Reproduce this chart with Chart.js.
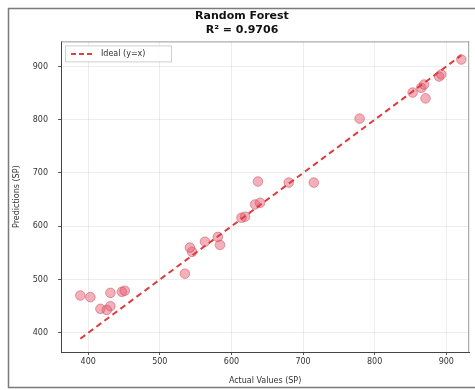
<!DOCTYPE html>
<html>
<head>
<meta charset="utf-8">
<script src="https://cdn.jsdelivr.net/npm/chart.js@4.4.1/dist/chart.umd.min.js"></script>
<style>
html,body{margin:0;padding:0;background:#fff;}
#wrap{width:475px;height:390px;}
</style>
</head>
<body>
<div id="wrap"><canvas id="c" width="475" height="390"></canvas></div>
<script>
const titleLines = ["Random Forest", "R\u00b2 = 0.9706"];
const actualValues = [389, 403, 417, 426, 431, 431, 447, 451, 535, 545, 542, 563, 581, 584, 614, 619, 633, 640, 637, 680, 715, 779, 853, 865, 869, 871, 890, 893, 921];
const predictedValues = [470, 467, 445, 443, 450, 475, 477, 479, 511, 552, 560, 571, 580, 565, 616, 618, 641, 644, 684, 682, 682, 802, 851, 860, 866, 840, 881, 885, 913];
const idealLine = [389, 921];
const xTicks = [400, 500, 600, 700, 800, 900];
const yTicks = [400, 500, 600, 700, 800, 900];
const legendLabel = "Ideal (y=x)";
const xTitle = "Actual Values (SP)";
const yTitle = "Predictions (SP)";

const points = actualValues.map((v, i) => ({x: v, y: predictedValues[i]}));
const linePts = idealLine.map(v => ({x: v, y: v}));

const framePlugin = {
  id: 'frame',
  beforeDraw(chart) {
    const ctx = chart.ctx;
    ctx.save();
    ctx.fillStyle = '#fff';
    ctx.fillRect(0, 0, chart.width, chart.height);
    ctx.strokeStyle = '#7a7a7a';
    ctx.lineWidth = 1.5;
    ctx.strokeRect(8.5, 8.5, 475, 379);
    ctx.restore();
  },
  afterDatasetsDraw(chart) {
    const ctx = chart.ctx;
    const a = chart.chartArea;
    ctx.save();
    ctx.strokeStyle = '#999';
    ctx.lineWidth = 1;
    ctx.beginPath();
    ctx.moveTo(a.left, a.top + 0.5);
    ctx.lineTo(a.right, a.top + 0.5);
    ctx.moveTo(a.right - 0.5, a.top);
    ctx.lineTo(a.right - 0.5, a.bottom);
    ctx.stroke();
    // legend
    const bx = a.left + 4, by = a.top + 4, bw = 106, bh = 16;
    ctx.fillStyle = 'rgba(255,255,255,0.85)';
    ctx.fillRect(bx, by, bw, bh);
    ctx.strokeStyle = '#d0d0d0';
    ctx.strokeRect(bx + 0.5, by + 0.5, bw, bh);
    ctx.strokeStyle = '#e04040';
    ctx.lineWidth = 2;
    ctx.setLineDash([5, 3]);
    ctx.beginPath();
    ctx.moveTo(bx + 6, by + 8.5);
    ctx.lineTo(bx + 28, by + 8.5);
    ctx.stroke();
    ctx.setLineDash([]);
    ctx.fillStyle = '#333';
    ctx.font = '8px "DejaVu Sans"';
    ctx.textBaseline = 'middle';
    ctx.fillText(legendLabel, bx + 36, by + 8.5);
    ctx.restore();
  }
};

new Chart(document.getElementById('c'), {
  type: 'scatter',
  data: {
    datasets: [
      {
        label: 'Predictions',
        data: points,
        backgroundColor: 'rgba(228,90,110,0.48)',
        borderColor: 'rgba(205,70,90,0.5)',
        borderWidth: 1,
        pointRadius: 4.8,
        order: 2
      },
      {
        label: legendLabel,
        type: 'line',
        data: linePts,
        borderColor: '#e03a3a',
        borderWidth: 2,
        borderDash: [6, 4],
        pointRadius: 0,
        fill: false,
        order: 1
      }
    ]
  },
  options: {
    responsive: false,
    animation: false,
    devicePixelRatio: 1,
    layout: {padding: {left: 12, right: 3, top: 10, bottom: 4}},
    plugins: {
      legend: {display: false},
      tooltip: {enabled: false},
      title: {
        display: true,
        text: titleLines,
        color: '#111',
        font: {family: '"DejaVu Sans"', size: 11, weight: 'bold', lineHeight: 1.2},
        padding: {top: 0, bottom: 5}
      }
    },
    scales: {
      x: {
        type: 'linear',
        min: 362, max: 932,
        afterBuildTicks(s) { s.ticks = xTicks.map(v => ({value: v})); },
        afterFit(s) { s.height = 34; },
        ticks: {color: '#333', font: {family: '"DejaVu Sans"', size: 8}, padding: 2},
        grid: {color: 'rgba(0,0,0,0.07)', tickColor: '#555', tickLength: 3},
        border: {color: '#444', width: 1},
        title: {display: true, text: xTitle, color: '#333', font: {family: '"DejaVu Sans"', size: 8}, padding: {top: 1, bottom: 0}}
      },
      y: {
        type: 'linear',
        min: 364, max: 947,
        afterBuildTicks(s) { s.ticks = yTicks.map(v => ({value: v})); },
        afterFit(s) { s.width = 49; },
        ticks: {color: '#333', font: {family: '"DejaVu Sans"', size: 8}, padding: 10},
        grid: {color: 'rgba(0,0,0,0.07)', tickColor: '#555', tickLength: 3},
        border: {color: '#444', width: 1},
        title: {display: true, text: yTitle, color: '#333', font: {family: '"DejaVu Sans"', size: 8}, padding: {top: 0, bottom: 2}}
      }
    }
  },
  plugins: [framePlugin]
});
</script>
</body>
</html>
